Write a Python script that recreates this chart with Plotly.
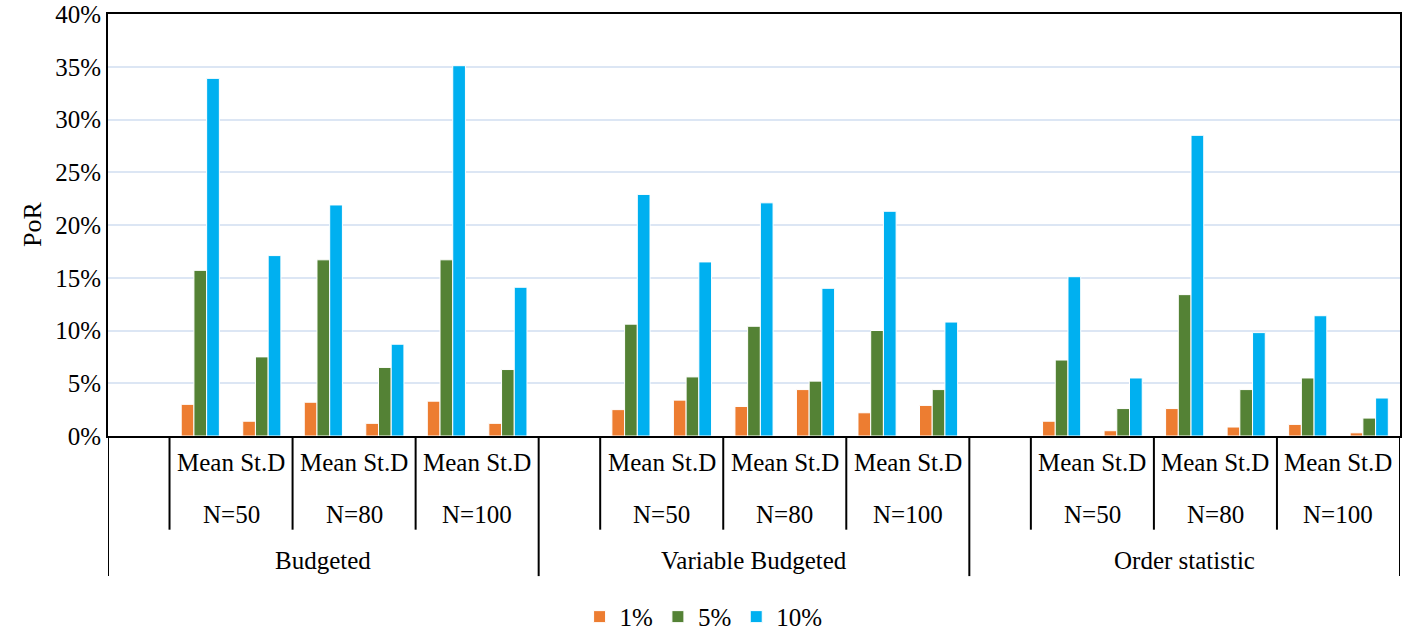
import plotly.graph_objects as go

# category structure (one blank slot at the start of each method block)
methods = ["Budgeted", "Variable Budgeted", "Order statistic"]
sizes = ["N=50", "N=80", "N=100"]
stats = ["Mean", "St.D"]

# PoR values in %, order: method -> N -> (Mean, St.D)
por_1 = [3.0, 1.4, 3.2, 1.2, 3.3, 1.2,
         2.5, 3.4, 2.8, 4.4, 2.2, 2.9,
         1.4, 0.5, 2.6, 0.85, 1.1, 0.3]
por_5 = [15.7, 7.5, 16.7, 6.5, 16.7, 6.3,
         10.6, 5.6, 10.4, 5.2, 10.0, 4.4,
         7.2, 2.6, 13.4, 4.4, 5.5, 1.7]
por_10 = [33.9, 17.1, 21.9, 8.7, 35.1, 14.1,
          22.9, 16.5, 22.1, 14.0, 21.3, 10.8,
          15.1, 5.5, 28.5, 9.8, 11.4, 3.6]

series = [("1%", por_1, "#ED7D31"), ("5%", por_5, "#548235"), ("10%", por_10, "#00B0F0")]

# build slot list: blank + Mean/St.D for each N, per method
slots = []
for m in methods:
    slots.append((m, None, None))
    for n in sizes:
        for s in stats:
            slots.append((m, n, s))
xpos = list(range(len(slots)))


def spread(vals):
    out, k = [], 0
    for m, n, s in slots:
        if n is None:
            out.append(None)
        else:
            out.append(vals[k])
            k += 1
    return out


FONT = "Liberation Serif"
fig = go.Figure()
for name, vals, col in series:
    fig.add_trace(go.Bar(
        x=xpos, y=spread(vals), name=name,
        marker=dict(color=col, line=dict(color="white", width=1)),
    ))

shapes = []
annotations = []
per_method = 1 + len(sizes) * len(stats)
for gi, m in enumerate(methods):
    start = gi * per_method
    # long divider at left edge of method block
    shapes.append(dict(type="line", xref="x", yref="paper", x0=start - 0.5, x1=start - 0.5,
                       y0=0, y1=-0.332, line=dict(color="black", width=2)))
    annotations.append(dict(x=start + (per_method - 1) / 2, y=-0.296, xref="x", yref="paper",
                            text=m, showarrow=False, yanchor="middle"))
    for ni, n in enumerate(sizes):
        left = start + 1 + ni * 2
        shapes.append(dict(type="line", xref="x", yref="paper", x0=left - 0.5, x1=left - 0.5,
                           y0=0, y1=-0.222, line=dict(color="black", width=2)))
        annotations.append(dict(x=left + 0.5, y=-0.185, xref="x", yref="paper",
                                text=n, showarrow=False, yanchor="middle"))
        annotations.append(dict(x=left + 0.5, y=-0.062, xref="x", yref="paper",
                                text=" ".join(stats), showarrow=False, yanchor="middle"))
end = len(slots) - 0.5
shapes.append(dict(type="line", xref="x", yref="paper", x0=end, x1=end,
                   y0=0, y1=-0.332, line=dict(color="black", width=2)))

# y axis title
annotations.append(dict(x=0, y=0.5, xref="paper", yref="paper", xshift=-76, text="PoR",
                        textangle=-90, showarrow=False, xanchor="center", yanchor="middle",
                        font=dict(size=26)))

fig.update_layout(
    width=1406, height=634,
    margin=dict(l=108, r=6, t=14, b=198),
    paper_bgcolor="white", plot_bgcolor="white",
    font=dict(family=FONT, size=25, color="black"),
    barmode="group", bargap=0.38, bargroupgap=0.0,
    shapes=shapes, annotations=annotations,
    legend=dict(orientation="h", x=0.365, xanchor="left", yref="container", y=0.027,
                yanchor="middle", font=dict(size=25), itemwidth=30, traceorder="normal"),
)
fig.update_xaxes(range=[-0.5, len(slots) - 0.5], showticklabels=False, showgrid=False,
                 showline=True, mirror=True, linecolor="black", linewidth=2, zeroline=False,
                 automargin=False)
fig.update_yaxes(range=[0, 40], dtick=5, ticksuffix="%", showgrid=True, gridcolor="#DCE6F4",
                 gridwidth=1.5, showline=True, mirror=True, linecolor="black", linewidth=2,
                 zeroline=False, ticks="", automargin=False, ticklabeloverflow="allow")

# drop the browser's default 8px body margin so the figure fills the window
fig.write_html("out.html", config={"displayModeBar": False},
               post_script="document.body.style.margin='0';")
